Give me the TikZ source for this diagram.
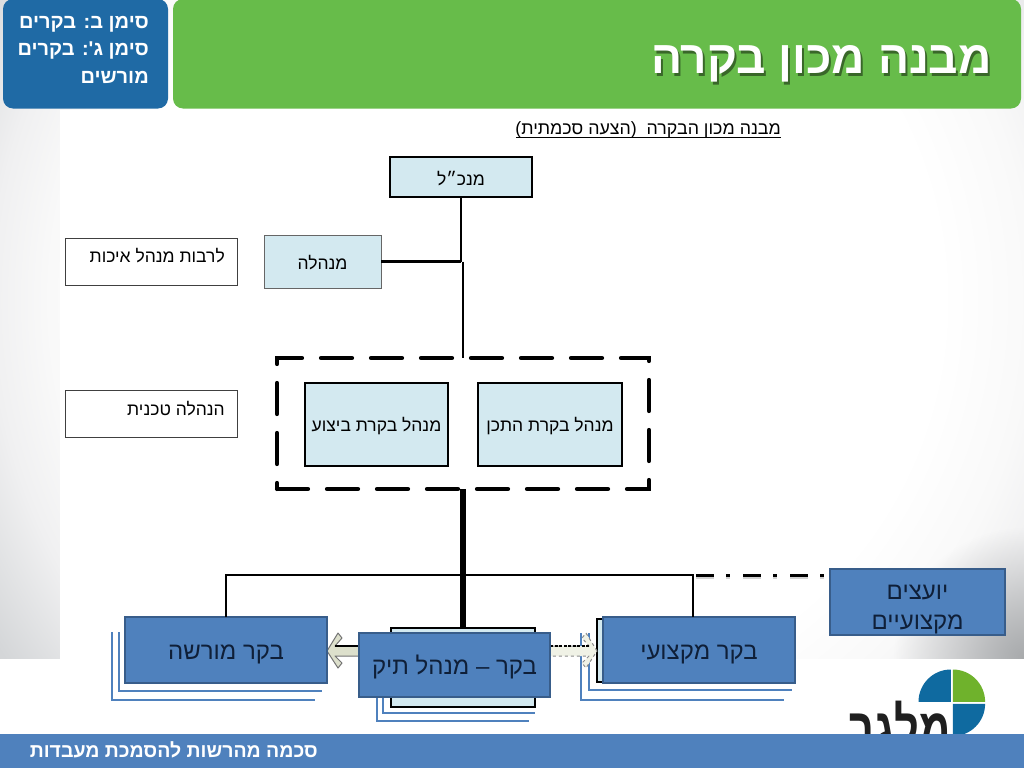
\documentclass[tikz,border=0pt]{standalone}
\usepackage{fontspec}
\usetikzlibrary{fadings}
\newfontfamily\heb[Script=Hebrew]{Liberation Sans}
\newfontfamily\hebb[Script=Hebrew]{Liberation Sans Bold}
\TeXXeTstate=1
\newcommand{\hb}[1]{\beginR #1\endR}
\definecolor{hdrblue}{HTML}{1F6AA5}
\definecolor{hdrgreen}{HTML}{67BC4A}
\definecolor{barblue}{HTML}{4F81BD}
\definecolor{boxedge}{HTML}{385D8A}
\definecolor{paleblue}{HTML}{D3E9F0}
\definecolor{navy}{HTML}{0F1F38}
\definecolor{logoblue}{HTML}{0F6AA0}
\definecolor{logogreen}{HTML}{6FB22C}
\definecolor{arrowfill}{HTML}{DDE0CC}
\definecolor{arrowpale}{HTML}{F0F2E6}
\definecolor{bgZ}{HTML}{F9F9F9}
\definecolor{bgA}{HTML}{F0F0F1}
\definecolor{bgB}{HTML}{D4D6D8}
\definecolor{bgC}{HTML}{CCCED0}
\definecolor{cornergray}{HTML}{A8AAAC}
\pgfdeclareradialshading{pagebg}{\pgfpointorigin}{color(0bp)=(white); color(14.3bp)=(white); color(17.5bp)=(bgZ); color(19.6bp)=(bgA); color(23bp)=(bgB); color(25bp)=(bgC); color(50bp)=(bgC)}
\tikzfading[name=cornerfade,inner color=transparent!0,outer color=transparent!100]
\tikzset{
  pbox/.style={draw=#1,fill=paleblue,inner sep=0pt,outer sep=0pt},
  notebox/.style={draw=black!75,line width=1pt,fill=white,inner sep=0pt,outer sep=0pt},
  bluebox/.style={draw=boxedge,line width=2pt,fill=barblue,text=navy,inner sep=0pt,outer sep=0pt,font=\heb\fontsize{24}{30}\selectfont,align=center},
  lowtext/.style={text height=22pt,text depth=3pt},
  stackline/.style={draw=barblue,line width=2pt},
  conn/.style={draw=black,line width=2.4pt},
  smalltxt/.style={font=\heb\fontsize{17.5}{20}\selectfont,text=black,inner sep=0pt}
}
\begin{document}
\begin{tikzpicture}[x=1pt,y=-1pt]
\useasboundingbox (0,0) rectangle (1024,768);
% page background
\fill[white] (0,0) rectangle (1024,768);
\begin{scope}
\clip (0,0) rectangle (1024,658);
\shade[shading=pagebg] (-160,-400) rectangle (1240,1000);
\fill[cornergray,path fading=cornerfade] (894,528) rectangle (1154,788);
\end{scope}
\fill[white] (60,110) rectangle (795,768);
% header
\fill[hdrblue,rounded corners=10pt] (3,-1) rectangle (168,108.5);
\fill[hdrgreen,rounded corners=10pt] (173,-1) rectangle (1021,108.5);
\node[anchor=base east,inner sep=0pt,text=white] (side1) at (149,29) {\hebb\fontsize{20}{22}\selectfont\hb{סימן ב: בקרים}};
\node[anchor=base east,inner sep=0pt,text=white] (side2) at (149,56) {\hebb\fontsize{20}{22}\selectfont\hb{סימן ג': בקרים}};
\node[anchor=base east,inner sep=0pt,text=white] (side3) at (149,83) {\hebb\fontsize{20}{22}\selectfont\hb{מורשים}};
\node[anchor=base east,inner sep=0pt,text=black!45!hdrgreen] (titleshadow) at (994,76) {\hebb\fontsize{46}{50}\selectfont\hb{מבנה מכון בקרה}};
\node[anchor=base east,inner sep=0pt,text=white] (title) at (992,74) {\hebb\fontsize{46}{50}\selectfont\hb{מבנה מכון בקרה}};
% sub-title
\node[anchor=base east,inner sep=0pt,font=\heb\fontsize{17.8}{20}\selectfont] (sub) at (781,134) {\hb{מבנה מכון הבקרה\ \ (הצעה סכמתית)}};
\coordinate (subL) at (516,137.5);
\coordinate (subR) at (781,137.5);
\draw[black,line width=1pt] (subL) -- (subR);
% upper boxes
\node[pbox=black,line width=2.6pt,minimum width=142pt,minimum height=40pt] (mgr) at (461,177) {};
\node[smalltxt] at ([yshift=-2pt]mgr.center) {\heb\hb{מנכ״ל}};
\node[pbox=black!60,line width=1pt,minimum width=117pt,minimum height=53pt] (board) at (322.5,261.5) {};
\node[smalltxt] at ([yshift=-1pt]board.center) {\heb\hb{מנהלה}};
\node[notebox,minimum width=172pt,minimum height=47pt] (note1) at (151,261.5) {};
\node[smalltxt,anchor=base east] (note1t) at (225,262) {\hb{לרבות מנהל איכות}};
\node[notebox,minimum width=172pt,minimum height=47pt] (note2) at (151,413.5) {};
\node[smalltxt,anchor=base east] (note2t) at (225,415) {\hb{הנהלה טכנית}};
% dashed group
\node[draw=black,line width=4.2pt,line cap=round,dash pattern=on 31pt off 19pt,inner sep=0pt,outer sep=0pt,minimum width=372pt,minimum height=131pt] (group) at (463,423.5) {};
\node[pbox=black,line width=2pt,minimum width=143pt,minimum height=83pt] (exec) at (376.5,424.5) {};
\node[smalltxt] at ([yshift=-2pt]exec.center) {\heb\hb{מנהל בקרת ביצוע}};
\node[pbox=black,line width=2pt,minimum width=144pt,minimum height=83pt] (plan) at (550,424.5) {};
\node[smalltxt] at ([yshift=-2pt]plan.center) {\heb\hb{מנהל בקרת התכן}};
% connectors of the upper part
\coordinate (joint) at (mgr.south |- board.east);
\draw[conn] (mgr.south) -- (joint);
\draw[conn] (board.east) -- (joint);
\draw[conn] (group.north |- board.east) -- (group.north);
% stacked lines behind the lower boxes
\draw[stackline] (119,632) -- (119,691) -- (322,691);
\draw[stackline] (112,632) -- (112,700) -- (315,700);
\draw[stackline] (383,697) -- (383,713) -- (535,713);
\draw[stackline] (377,697) -- (377,721) -- (529,721);
\draw[stackline] (589,633) -- (589,690) -- (792,690);
\draw[stackline] (581,633) -- (581,700) -- (784,700);
% box behind the tank manager
\node[pbox=black,line width=2.6pt,minimum width=144pt,minimum height=79pt] (back) at (463,667.5) {};
\node[draw=black,fill=paleblue,line width=2.6pt,inner sep=0pt,outer sep=0pt,minimum width=20pt,minimum height=63pt] (back2) at (607,650.5) {};
% block arrows
\draw[draw=black!55,fill=arrowfill,line width=1pt,line join=round]
  (327,651) -- (338,633) -- (342,638) -- (335,646) -- (359,646) -- (359,656) -- (335,656) -- (342,663) -- (338,668) -- cycle;
\draw[draw=black!45,fill=arrowpale,line width=1pt,dashed,line join=round]
  (597,651) -- (586,633) -- (582,638) -- (589,646) -- (550,646) -- (550,656) -- (589,656) -- (582,663) -- (586,668) -- cycle;
\draw[black,line width=1.5pt] (335,646) -- (359,646);
\draw[black,line width=1.5pt,dash pattern=on 3pt off 1.5pt] (550,646) -- (589,646);
% lower boxes
\node[bluebox,lowtext,minimum width=202pt,minimum height=66pt] (heir) at (226,650) {\hb{בקר מורשה}};
\node[bluebox,lowtext,minimum width=192pt,minimum height=66pt] (prof) at (699,650) {\hb{בקר מקצועי}};
\node[bluebox,minimum width=175pt,minimum height=66pt] (advis) at (917.5,602) {\rule{0pt}{29pt}\hb{יועצים}\\\hb{מקצועיים}};
% bus and thick trunk
\coordinate (busL) at (heir.north |- 0,575);
\coordinate (busR) at (693,575);
\coordinate (profTop) at (693,617);
\draw[conn,line join=miter] (heir.north) -- (busL) -- (busR) -- (profTop);
\draw[black,line width=5.5pt] (group.south) -- (back.north);
\coordinate (advStart) at (696,575.5);
\coordinate (advEnd) at (advis.west |- advStart);
\draw[black!18,line width=4pt,dash pattern=on 18pt off 12pt on 4pt off 13pt] ([yshift=-1.5pt]advStart) -- ([yshift=-1.5pt]advEnd);
\draw[black,line width=3.6pt,dash pattern=on 18pt off 12pt on 4pt off 13pt] (advStart) -- (advEnd);
\node[bluebox,lowtext,minimum width=191pt,minimum height=64pt] (tank) at (454.5,665) {\hb{בקר – מנהל תיק}};
% logo
\fill[logoblue] (950.8,701.8) -- (918.5,701.8) arc[start angle=180,end angle=90,radius=32.3pt] -- cycle;
\fill[logogreen] (952.8,701.8) -- (952.8,669.5) arc[start angle=90,end angle=0,radius=32.3pt] -- cycle;
\fill[logoblue] (952.8,703.8) -- (985.1,703.8) arc[start angle=0,end angle=-90,radius=32.3pt] -- cycle;
\node[anchor=base east,inner sep=0pt,text=black!88] (logo) at (951,751) {\scalebox{0.7}[1]{\hebb\fontsize{62}{66}\selectfont\hb{מלגר}}};
% footer
\fill[barblue] (0,734) rectangle (1024,768);
\node[anchor=base east,inner sep=0pt,text=white] (foot) at (318,757) {\hebb\fontsize{19.5}{22}\selectfont\hb{סכמה מהרשות להסמכת מעבדות}};
\end{tikzpicture}
\end{document}
